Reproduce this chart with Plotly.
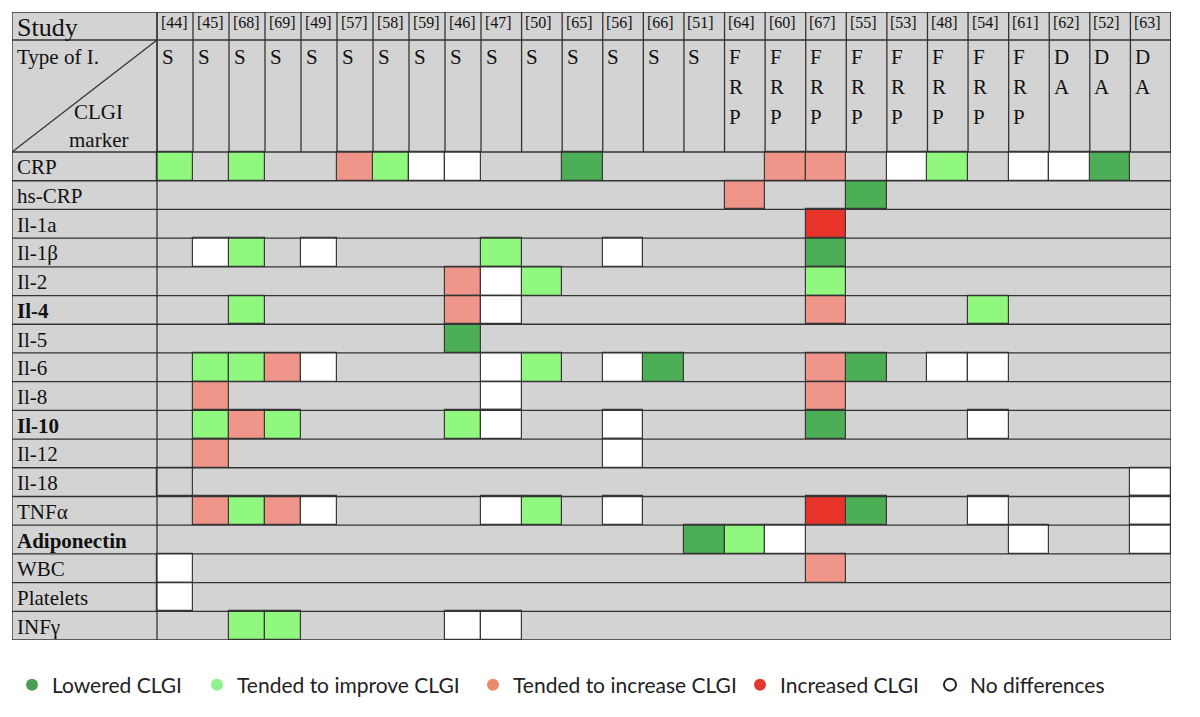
import plotly.graph_objects as go

# studies (columns) and the type of intervention for each
studies = ["[44]", "[45]", "[68]", "[69]", "[49]", "[57]", "[58]", "[59]", "[46]",
           "[47]", "[50]", "[65]", "[56]", "[66]", "[51]", "[64]", "[60]", "[67]",
           "[55]", "[53]", "[48]", "[54]", "[61]", "[62]", "[52]", "[63]"]
types = ["S", "S", "S", "S", "S", "S", "S", "S", "S",
         "S", "S", "S", "S", "S", "S", "FRP", "FRP", "FRP",
         "FRP", "FRP", "FRP", "FRP", "FRP", "DA", "DA", "DA"]

markers = ["CRP", "hs-CRP", "Il-1a", "Il-1β", "Il-2", "Il-4", "Il-5", "Il-6", "Il-8",
           "Il-10", "Il-12", "Il-18", "TNFα", "Adiponectin", "WBC", "Platelets", "INFγ"]
bold_markers = ["Il-4", "Il-10", "Adiponectin"]

# one char per study:  . none   D lowered   g tended to improve
#                      s tended to increase   R increased   w no differences   b empty cell
results = [
    "g.g..sgww..D....ss.wg.wwD.",
    "...............s..D.......",
    ".................R........",
    ".wg.w....g..w....D........",
    "........swg......g........",
    "..g.....sw.......s...g....",
    "........D.................",
    ".ggsw....wg.wD...sD.ww....",
    ".s.......w.......s........",
    ".gsg....gw..w....D...w....",
    ".s..........w.............",
    "b........................w",
    ".sgsw....wg.w....RD..w...w",
    "..............Dgw.....w..w",
    "w................s........",
    "w.........................",
    "..gg....ww................",
]

legend_names = ["Lowered CLGI", "Tended to improve CLGI", "Tended to increase CLGI",
                "Increased CLGI", "No differences"]
legend_codes = ["D", "g", "s", "R", "w"]

cell_colors = {"D": "#4cae55", "g": "#90f87f", "s": "#f0958a", "R": "#e8332a",
               "w": "#ffffff", "b": "#d3d3d3"}
legend_colors = {"D": "#4a9d52", "g": "#8ef28d", "s": "#ea8a6c", "R": "#e03a2e",
                 "w": "#ffffff"}

# geometry (px-like data units)
label_w = 145
narrow_w = 36
wide_w = 690 / 17
study_h = 28
type_h = 112
row_h = 28.7

widths = [narrow_w] * 9 + [wide_w] * 17
edges = [label_w]
for w in widths:
    edges.append(edges[-1] + w)
x_end = edges[-1]
top_data = study_h + type_h
row_edges = [top_data + i * row_h for i in range(len(markers) + 1)]
y_end = row_edges[-1]

fig = go.Figure()

# coloured cells, one bar trace per result
for code in ["b", "D", "g", "s", "R", "w"]:
    ys, xs, bases = [], [], []
    for r, row in enumerate(results):
        for c, ch in enumerate(row):
            if ch == code:
                ys.append((row_edges[r] + row_edges[r + 1]) / 2)
                xs.append(widths[c])
                bases.append(edges[c])
    fig.add_trace(go.Bar(
        y=ys, x=xs, base=bases, orientation="h", width=row_h,
        marker=dict(color=cell_colors[code], line=dict(color="#3a3a3a", width=1.2)),
        showlegend=False, hoverinfo="skip"))

# grid lines
lx, ly = [], []
for xe in edges:
    lx += [xe, xe, None]
    ly += [0, top_data, None]
for xe in [0, label_w, x_end]:
    lx += [xe, xe, None]
    ly += [0, y_end, None]
for ye in [0, study_h] + row_edges:
    lx += [0, x_end, None]
    ly += [ye, ye, None]
lx += [0, label_w]
ly += [top_data, study_h]
fig.add_trace(go.Scatter(x=lx, y=ly, mode="lines", line=dict(color="#333333", width=1.3),
                         showlegend=False, hoverinfo="skip"))

serif = "Liberation Serif, Times New Roman, serif"
ann = []
ann.append(dict(x=3, y=study_h / 2 + 1, text="Study", font=dict(size=26)))
ann.append(dict(x=3, y=study_h + 17, text="Type of I.", font=dict(size=21)))
ann.append(dict(x=86, y=study_h + 72, text="CLGI", font=dict(size=21), xanchor="center"))
ann.append(dict(x=86, y=study_h + 100, text="marker", font=dict(size=21), xanchor="center"))
for c, s in enumerate(studies):
    ann.append(dict(x=edges[c] + 1.5, y=10, text=s, font=dict(size=16)))
    for k, letter in enumerate(types[c]):
        ann.append(dict(x=edges[c] + 2.5, y=study_h + 17 + 30 * k, text=letter,
                        font=dict(size=21)))
for r, m in enumerate(markers):
    t = "<b>" + m + "</b>" if m in bold_markers else m
    ann.append(dict(x=3, y=(row_edges[r] + row_edges[r + 1]) / 2 + 1, text=t,
                    font=dict(size=21)))
for a in ann:
    a.setdefault("xanchor", "left")
    a.update(xref="x", yref="y", yanchor="middle", showarrow=False)
    a["font"].update(family=serif, color="#111111")

# the page body has an 8px margin, so the figure is a bit smaller and shifted
W, H, OFF = 1192, 709, 8

# legend, one small legend per entry so the spacing can follow the reference
legend_x = [29, 214, 490, 757, 947]
for i, (name, code) in enumerate(zip(legend_names, legend_codes)):
    lname = "legend" if i == 0 else "legend%d" % (i + 1)
    if code == "w":
        mk = dict(symbol="circle-open", size=13, color="#222222", line=dict(width=2))
    else:
        mk = dict(symbol="circle", size=14, color=legend_colors[code])
    fig.add_trace(go.Scatter(x=[None], y=[None], mode="markers", name=name, marker=mk,
                             legend=lname, showlegend=True))

layout_legends = {}
for i, px in enumerate(legend_x):
    lname = "legend" if i == 0 else "legend%d" % (i + 1)
    layout_legends[lname] = dict(
        x=(px - OFF - 17) / W, y=1 - (685 - OFF) / H, xref="container", yref="container",
        xanchor="left", yanchor="middle",
        orientation="h", bgcolor="rgba(0,0,0,0)", borderwidth=0,
        font=dict(family="Lato, Open Sans, sans-serif", size=21, color="#222222"),
        itemsizing="constant")

fig.update_layout(
    width=W, height=H,
    margin=dict(l=12 - OFF, r=29, t=12 - OFF, b=77, autoexpand=False),
    paper_bgcolor="white", plot_bgcolor="#d3d3d3",
    barmode="overlay", bargap=0,
    xaxis=dict(range=[0, x_end], visible=False, fixedrange=True),
    yaxis=dict(range=[y_end, 0], visible=False, fixedrange=True),
    annotations=ann,
    showlegend=True,
    **layout_legends,
)

fig.write_html("out.html")
